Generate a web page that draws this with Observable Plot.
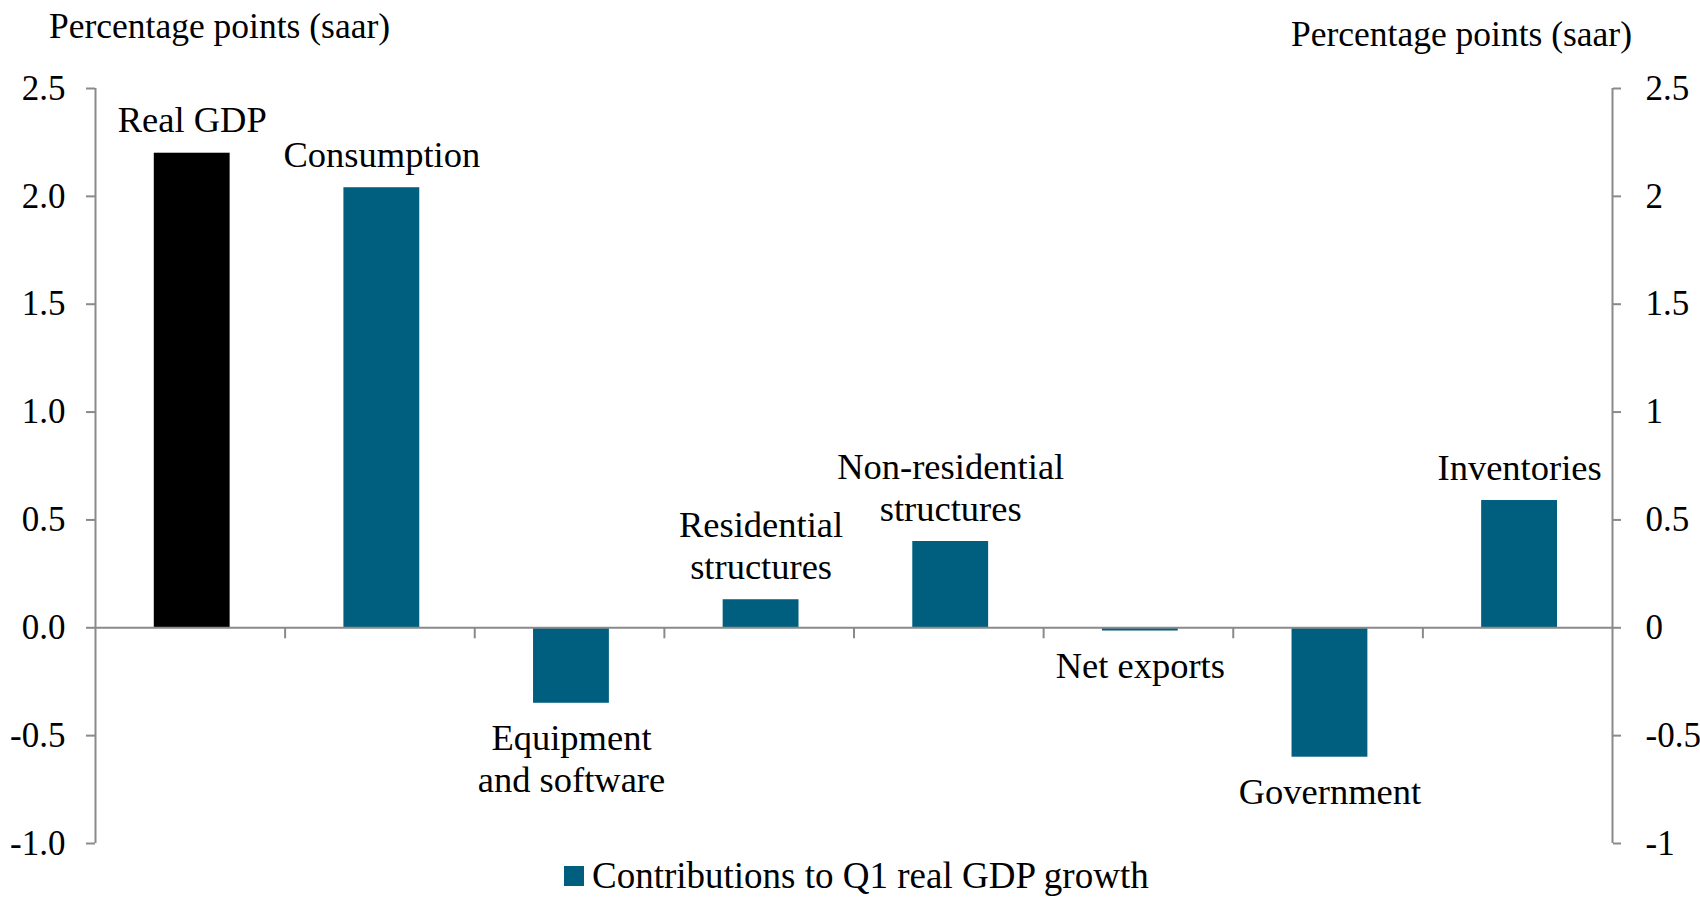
<!DOCTYPE html>
<html><head><meta charset="utf-8">
<script src="https://cdn.jsdelivr.net/npm/d3@7"></script>
<script src="https://cdn.jsdelivr.net/npm/@observablehq/plot@0.6"></script>
<style>
body{margin:0;background:#fff;}
#wrap{position:relative;width:1700px;height:897px;font-family:'Liberation Serif',serif;color:#000;}
#wrap svg{display:block;position:absolute;left:0;top:0;}
.t{position:absolute;font-size:35.5px;line-height:36px;white-space:nowrap;}
#legend{display:flex;align-items:center;font-size:37px;}
#legend .sw{width:20px;height:20px;background:#005f7f;margin-right:8px;}
</style>
</head><body>
<div id="wrap">
  <div class="t" id="tl"></div>
  <div class="t" id="tr"></div>
  <div class="t" id="legend"><span class="sw"></span><span id="legtext"></span></div>
</div>
<script>
const categories = ["Real GDP","Consumption","Equipment\nand software","Residential\nstructures","Non-residential\nstructures","Net exports","Government","Inventories"];
const values = [2.2, 2.04, -0.35, 0.13, 0.40, -0.015, -0.60, 0.59];
const yTicks = [-1, -0.5, 0, 0.5, 1, 1.5, 2, 2.5];
const boundaries = [1, 2, 3, 4, 5, 6, 7];
const titleLeft = "Percentage points (saar)";
const titleRight = "Percentage points (saar)";
const legendLabel = "Contributions to Q1 real GDP growth";

const teal = "#005f7f";
const grey = "#8a8a8a";
const data = categories.map((name, i) => ({name, i, value: values[i]}));

const chart = Plot.plot({
  width: 1700, height: 897,
  marginLeft: 95, marginRight: 88, marginTop: 88, marginBottom: 54,
  style: {fontFamily: "'Liberation Serif', serif", fontSize: "35px", color: "#000", background: "transparent"},
  x: {domain: [0, categories.length], axis: null},
  y: {domain: [-1, 2.5], axis: null, label: null},
  marks: [
    Plot.rectY(data, {x1: d => d.i + 0.31, x2: d => d.i + 0.71, y1: 0, y2: "value", fill: d => d.i === 0 ? "#000" : teal}),
    Plot.ruleY([0], {stroke: grey, strokeWidth: 2}),
    Plot.ruleX([0, categories.length], {y1: -1, y2: 2.5, stroke: grey, strokeWidth: 2}),
    Plot.ruleX(boundaries, {y1: 0, y2: 0, insetBottom: -11, stroke: grey, strokeWidth: 2}),
    Plot.axisY({anchor: "left", ticks: yTicks, tickSize: 9, tickPadding: 21, tickFormat: d => d.toFixed(1), stroke: grey, strokeWidth: 2, color: "#000", label: null}),
    Plot.axisY({anchor: "right", ticks: yTicks, tickSize: 8, tickPadding: 25, tickFormat: d => String(d), stroke: grey, strokeWidth: 2, color: "#000", label: null}),
    Plot.text(data.filter(d => d.value >= 0), {x: d => d.i + 0.51, y: "value", text: "name", lineAnchor: "bottom", dy: -21, lineHeight: 1.15, fontSize: 36.5, fill: "#000"}),
    Plot.text(data.filter(d => d.value < 0), {x: d => d.i + 0.51, y: "value", text: "name", lineAnchor: "top", dy: 17, lineHeight: 1.15, fontSize: 36.5, fill: "#000"})
  ]
});
document.getElementById("wrap").appendChild(chart);

const tl = document.getElementById("tl");
tl.textContent = titleLeft; tl.style.left = "49px"; tl.style.top = "8px";
const tr = document.getElementById("tr");
tr.textContent = titleRight; tr.style.right = "68px"; tr.style.top = "16px";
document.getElementById("legtext").textContent = legendLabel;
const lg = document.getElementById("legend");
lg.style.left = "564px"; lg.style.top = "858px";
</script>
</body></html>
